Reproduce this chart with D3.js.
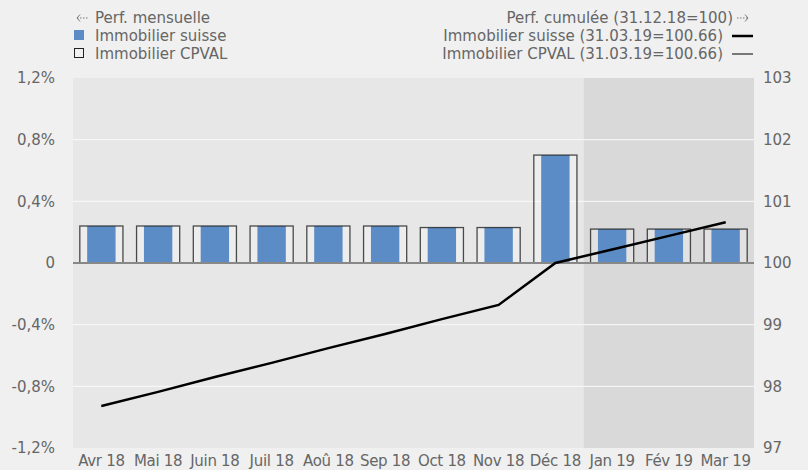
<!DOCTYPE html>
<html>
<head>
<meta charset="utf-8">
<script src="https://cdn.jsdelivr.net/npm/d3@7"></script>
<style>
  body { margin: 0; background: #f0f0f0; }
  svg { display: block; font-family: "DejaVu Sans", Verdana, sans-serif; }
</style>
</head>
<body>
<div id="chart"></div>
<script>
var months = ['Avr 18', 'Mai 18', 'Juin 18', 'Juil 18', 'Aoû 18', 'Sep 18', 'Oct 18', 'Nov 18', 'Déc 18', 'Jan 19', 'Fév 19', 'Mar 19'];
// monthly performance, %
var monthlySuisse = [0.24, 0.24, 0.24, 0.24, 0.24, 0.24, 0.23, 0.23, 0.70, 0.22, 0.22, 0.22];
var monthlyCpval  = [0.24, 0.24, 0.24, 0.24, 0.24, 0.24, 0.23, 0.23, 0.70, 0.22, 0.22, 0.22];
// cumulative performance (31.12.18 = 100)
var cumulSuisse = [97.68, 97.91, 98.15, 98.38, 98.62, 98.85, 99.09, 99.32, 100.00, 100.22, 100.44, 100.66];
var cumulCpval  = [97.68, 97.91, 98.15, 98.38, 98.62, 98.85, 99.09, 99.32, 100.00, 100.22, 100.44, 100.66];
var leftTicks = [-1.2, -0.8, -0.4, 0, 0.4, 0.8, 1.2];
var rightTicks = [97, 98, 99, 100, 101, 102, 103];
var shadedFrom = 'Jan 19';

var W = 808, H = 470;
var m = {top: 78, right: 54, bottom: 22, left: 73};
var iw = W - m.left - m.right, ih = H - m.top - m.bottom;
var FS = '15px';

var svg = d3.select('#chart').append('svg').attr('width', W).attr('height', H);
var g = svg.append('g').attr('transform', 'translate(' + m.left + ',' + m.top + ')');

var x = d3.scaleBand().domain(months).range([0, iw]);
var yL = d3.scaleLinear().domain([-1.2, 1.2]).range([ih, 0]);
var yR = d3.scaleLinear().domain([97, 103]).range([ih, 0]);

// plot background
g.append('rect').attr('width', iw).attr('height', ih).attr('fill', '#e7e7e7');
g.append('rect')
 .attr('x', x(shadedFrom)).attr('width', iw - x(shadedFrom))
 .attr('height', ih).attr('fill', '#d9d9d9');

// gridlines
g.selectAll('.grid').data(leftTicks.filter(function(t) {return t !== 0 && Math.abs(t) < 1.2;}))
 .enter().append('line')
 .attr('x1', 0).attr('x2', iw)
 .attr('y1', function(d) {return yL(d);}).attr('y2', function(d) {return yL(d);})
 .attr('stroke', '#fafafa').attr('stroke-width', 1);

// bars
var outerPad = 0.12, innerPad = 0.25;
function cpvalBars(cls) {
  return g.selectAll('.' + cls).data(monthlyCpval).enter().append('rect')
   .attr('x', function(d, i) {return x(months[i]) + x.bandwidth() * outerPad;})
   .attr('width', x.bandwidth() * (1 - 2 * outerPad))
   .attr('y', function(d) {return yL(Math.max(d, 0));})
   .attr('height', function(d) {return Math.abs(yL(d) - yL(0));});
}
cpvalBars('bar-cf').attr('fill', '#ffffff').attr('fill-opacity', 0.25);

g.selectAll('.bar-s').data(monthlySuisse).enter().append('rect')
 .attr('x', function(d, i) {return x(months[i]) + x.bandwidth() * innerPad;})
 .attr('width', x.bandwidth() * (1 - 2 * innerPad))
 .attr('y', function(d) {return yL(Math.max(d, 0));})
 .attr('height', function(d) {return Math.abs(yL(d) - yL(0));})
 .attr('fill', '#5b8cc6');

cpvalBars('bar-cs').attr('fill', 'none')
 .attr('stroke', '#222').attr('stroke-opacity', 0.8).attr('stroke-width', 1.3);

// zero line
g.append('line').attr('x1', 0).attr('x2', iw)
 .attr('y1', yL(0)).attr('y2', yL(0))
 .attr('stroke', '#888').attr('stroke-width', 2);

// lines
var line = d3.line()
  .x(function(d, i) {return x(months[i]) + x.bandwidth() / 2;})
  .y(function(d) {return yR(d);});
g.append('path').datum(cumulCpval).attr('d', line)
 .attr('fill', 'none').attr('stroke', '#000').attr('stroke-width', 1);
g.append('path').datum(cumulSuisse).attr('d', line)
 .attr('fill', 'none').attr('stroke', '#000').attr('stroke-width', 2.5);

// axes
var fmtL = function(d) {return d === 0 ? '0' : d3.format('.1f')(d).replace('.', ',').replace('\u2212', '-') + '%';};
var axL = g.append('g').call(d3.axisLeft(yL).tickValues(leftTicks).tickFormat(fmtL).tickSize(0).tickPadding(18));
var axR = g.append('g').attr('transform', 'translate(' + iw + ',0)')
  .call(d3.axisRight(yR).tickValues(rightTicks).tickFormat(d3.format('d')).tickSize(0).tickPadding(9));
var axB = g.append('g').attr('transform', 'translate(0,' + ih + ')')
  .call(d3.axisBottom(x).tickSize(0).tickPadding(7));
[axL, axR, axB].forEach(function(a) {
  a.select('.domain').remove();
  a.selectAll('text').attr('fill', '#666').style('font-size', FS)
   .style('font-family', '"DejaVu Sans", Verdana, sans-serif');
});
axR.selectAll('text').attr('text-anchor', 'start');
axB.selectAll('text').style('letter-spacing', '-0.3px');

// legends
var lg = svg.append('g').style('font-size', FS).attr('fill', '#666');
var rows = [23, 41, 59];

// left legend
var arrL = lg.append('g').attr('stroke', '#777').attr('fill', 'none').attr('stroke-width', 1);
arrL.append('path').attr('d', 'M80,14.5 L77,18 L80,21.5');
arrL.append('line').attr('x1', 77).attr('x2', 88).attr('y1', 18).attr('y2', 18)
    .attr('stroke-dasharray', '1.5,1.5');
lg.append('rect').attr('x', 74).attr('y', 30).attr('width', 10).attr('height', 10).attr('fill', '#5b8cc6');
lg.append('rect').attr('x', 74.5).attr('y', 48.5).attr('width', 9).attr('height', 9)
  .attr('fill', 'none').attr('stroke', '#222').attr('stroke-width', 1);
lg.append('text').attr('x', 95).attr('y', rows[0]).text('Perf. mensuelle');
lg.append('text').attr('x', 95).attr('y', rows[1]).text('Immobilier suisse');
lg.append('text').attr('x', 95).attr('y', rows[2]).text('Immobilier CPVAL');

// right legend
lg.append('text').attr('x', 733).attr('y', rows[0]).attr('text-anchor', 'end').text('Perf. cumulée (31.12.18=100)');
var arrR = lg.append('g').attr('stroke', '#777').attr('fill', 'none').attr('stroke-width', 1);
arrR.append('line').attr('x1', 737).attr('x2', 748).attr('y1', 18).attr('y2', 18)
    .attr('stroke-dasharray', '1.5,1.5');
arrR.append('path').attr('d', 'M745,14.5 L748,18 L745,21.5');
lg.append('text').attr('x', 723).attr('y', rows[1]).attr('text-anchor', 'end').text('Immobilier suisse (31.03.19=100.66)');
lg.append('text').attr('x', 723).attr('y', rows[2]).attr('text-anchor', 'end').text('Immobilier CPVAL (31.03.19=100.66)');
lg.append('line').attr('x1', 732).attr('x2', 753).attr('y1', 36).attr('y2', 36).attr('stroke', '#000').attr('stroke-width', 2.5);
lg.append('line').attr('x1', 732).attr('x2', 753).attr('y1', 54).attr('y2', 54).attr('stroke', '#000').attr('stroke-width', 1);
</script>
</body>
</html>
